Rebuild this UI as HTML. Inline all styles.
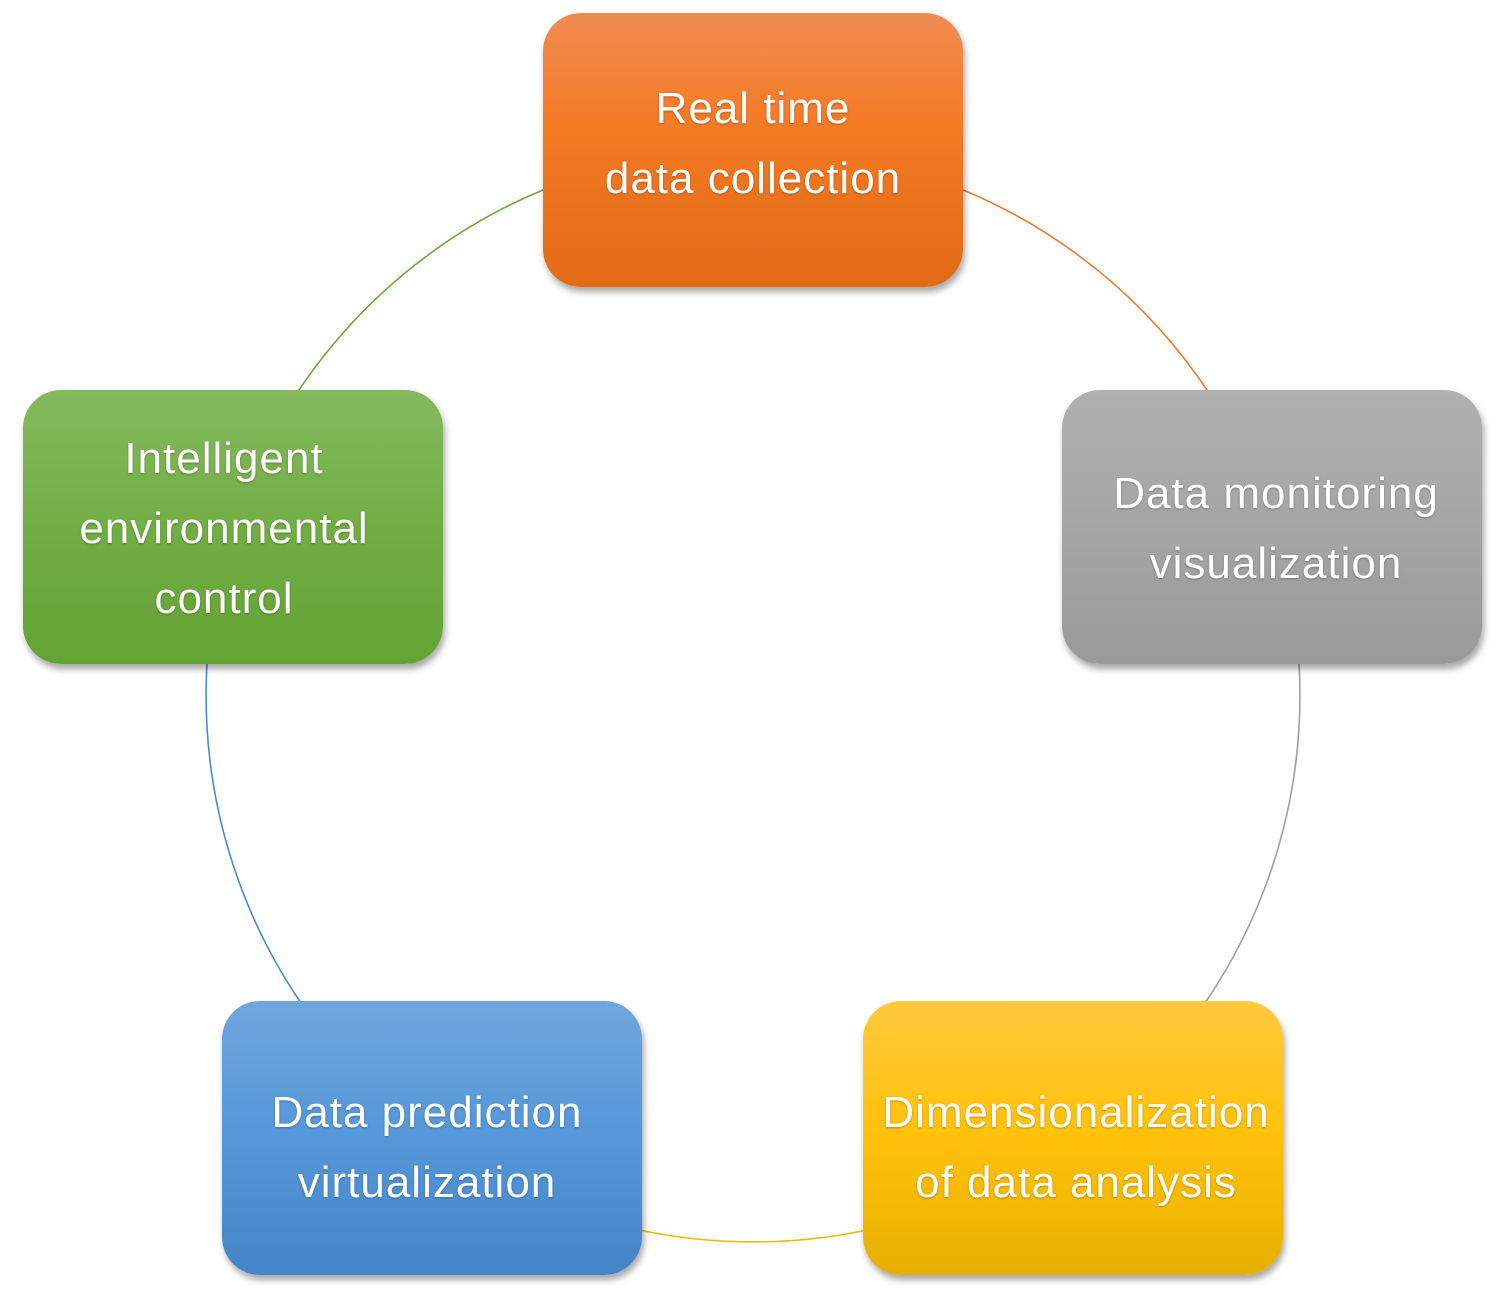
<!DOCTYPE html>
<html><head><meta charset="utf-8"><style>
html,body{margin:0;padding:0;background:#fff;}
body{width:1507px;height:1302px;position:relative;overflow:hidden;font-family:"Liberation Sans",sans-serif;}
.b{position:absolute;width:420px;height:274px;box-sizing:border-box;border-radius:38px;box-shadow:2px 5px 7px rgba(0,0,0,0.35);display:flex;align-items:center;justify-content:center;text-align:center;color:#fff;font-size:44px;letter-spacing:1px;line-height:70px;text-shadow:0 1px 2px rgba(0,0,0,0.25);}
svg{position:absolute;left:0;top:0;}
</style></head><body>
<svg width="1507" height="1302">
<g fill="none" stroke-width="1.6">
<path d="M753 148 A547 547 0 0 1 1273.2 526" stroke="#ee7a2e"/>
<path d="M1273.2 526 A547 547 0 0 1 1074.5 1137.5" stroke="#a0a0a0"/>
<path d="M1074.5 1137.5 A547 547 0 0 1 431.5 1137.5" stroke="#f5b800"/>
<path d="M431.5 1137.5 A547 547 0 0 1 232.8 526" stroke="#4a8ad0"/>
<path d="M232.8 526 A547 547 0 0 1 753 148" stroke="#6aa83a"/>
</g></svg>
<div class="b" style="left:543px;top:13px;padding-bottom:12px;background:linear-gradient(#f08c52,#f47a24 40%,#e36a16);">Real time<br>data collection</div>
<div class="b" style="left:1062px;top:390px;padding-left:8px;padding-top:4px;background:linear-gradient(#b0b0b0,#9a9a9a);">Data monitoring<br>visualization</div>
<div class="b" style="left:863px;top:1001px;padding-left:6px;padding-top:20px;background:linear-gradient(#ffc93c,#ffc10a 50%,#e6b000);">Dimensionalization<br>of data analysis</div>
<div class="b" style="left:222px;top:1001px;padding-right:10px;padding-top:20px;background:linear-gradient(#6fa6dc,#5597d9 50%,#4485c8);">Data prediction<br>virtualization</div>
<div class="b" style="left:23px;top:390px;padding-right:18px;padding-top:4px;background:linear-gradient(#84ba5e,#72ad45 50%,#63a333);">Intelligent<br>environmental<br>control</div>
</body></html>
